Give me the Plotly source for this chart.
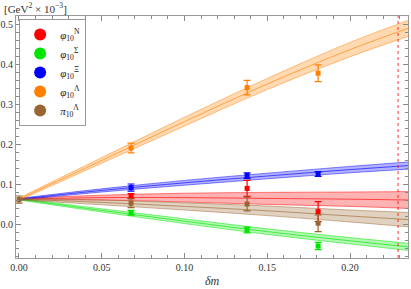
import plotly.graph_objects as go

# ---- data ----
pt_dm = [0.0677, 0.1378, 0.1807]
N_val = [0.070, 0.089, 0.031]
N_err = [0.006, 0.020, 0.025]
S_val = [0.028, -0.015, -0.055]
S_err = [0.006, 0.007, 0.009]
X_val = [0.091, 0.121, 0.125]
X_err = [0.009, 0.007, 0.006]
L_val = [0.190, 0.341, 0.377]
L_err = [0.012, 0.018, 0.021]
pi_dm = [0.0, 0.0677, 0.1378, 0.1807]
P_val = [0.061, 0.052, 0.050, 0.002]
P_err = [0.009, 0.011, 0.017, 0.021]

fit_dm = [0.0, 0.05, 0.10, 0.15, 0.20, 0.235]
N_fit = [0.062, 0.066, 0.066, 0.064, 0.062, 0.060]
N_hw = [0.002, 0.006, 0.011, 0.015, 0.018, 0.021]
S_fit = [0.062, 0.034, 0.007, -0.019, -0.042, -0.057]
S_hw = [0.002, 0.004, 0.006, 0.007, 0.008, 0.009]
X_fit = [0.062, 0.084, 0.103, 0.120, 0.136, 0.146]
X_hw = [0.002, 0.004, 0.006, 0.007, 0.008, 0.009]
L_fit = [0.062, 0.159, 0.256, 0.350, 0.436, 0.489]
L_hw = [0.003, 0.007, 0.011, 0.014, 0.018, 0.020]
P_fit = [0.062, 0.054, 0.044, 0.033, 0.020, 0.011]
P_hw = [0.002, 0.006, 0.009, 0.012, 0.015, 0.018]

phys_dm = [0.229]

labels = ["<i>φ</i><sub>10</sub><sup>N</sup>", "<i>φ</i><sub>10</sub><sup>Σ</sup>",
          "<i>φ</i><sub>10</sub><sup>Ξ</sup>", "<i>φ</i><sub>10</sub><sup>Λ</sup>",
          "<i>π</i><sub>10</sub><sup>Λ</sup>"]
x_ticks = [0.0, 0.05, 0.10, 0.15, 0.20]
x_tick_text = ["0.00", "0.05", "0.10", "0.15", "0.20"]
y_ticks = [0.0, 0.1, 0.2, 0.3, 0.4, 0.5]
y_tick_text = ["0.0", "0.1", "0.2", "0.3", "0.4", "0.5"]

colors = [(255, 0, 0), (0, 230, 0), (0, 0, 255), (255, 128, 0), (153, 102, 51)]

series = [
    (pt_dm, N_val, N_err, N_fit, N_hw),
    (pt_dm, S_val, S_err, S_fit, S_hw),
    (pt_dm, X_val, X_err, X_fit, X_hw),
    (pt_dm, L_val, L_err, L_fit, L_hw),
    (pi_dm, P_val, P_err, P_fit, P_hw),
]

FONT = "Liberation Serif, Times New Roman, serif"

def rgba(c, a):
    return f"rgba({c[0]},{c[1]},{c[2]},{a})"

fig = go.Figure()

# bands
for (px, pv, pe, fc, hw), c in zip(series, colors):
    lo = [a - b for a, b in zip(fc, hw)]
    hi = [a + b for a, b in zip(fc, hw)]
    fig.add_trace(go.Scatter(x=fit_dm, y=lo, mode="lines", line=dict(color=rgba(c, 0.6), width=0.8, shape="spline"),
                             showlegend=False, hoverinfo="skip"))
    fig.add_trace(go.Scatter(x=fit_dm, y=hi, mode="lines", line=dict(color=rgba(c, 0.6), width=0.8, shape="spline"),
                             fill="tonexty", fillcolor=rgba(c, 0.3), showlegend=False, hoverinfo="skip"))
    fig.add_trace(go.Scatter(x=fit_dm, y=fc, mode="lines", line=dict(color=rgba(c, 0.7), width=0.9, shape="spline"),
                             showlegend=False, hoverinfo="skip"))

# data points
for (px, pv, pe, fc, hw), c in zip(series, colors):
    fig.add_trace(go.Scatter(x=px, y=pv, mode="markers",
                             marker=dict(symbol="square", size=5, color=rgba(c, 1)),
                             error_y=dict(type="data", array=pe, visible=True, color=rgba(c, 1), thickness=1.2, width=3.5),
                             showlegend=False))

# legend entries
for lab, c in zip(labels, colors):
    fig.add_trace(go.Scatter(x=[None], y=[None], mode="markers", name=lab,
                             marker=dict(symbol="circle", size=13, color=rgba(c, 1))))

for xv in phys_dm:
    fig.add_vline(x=xv, line=dict(color="rgba(255,0,0,0.8)", width=1, dash="dot"))

axis_common = dict(showgrid=False, zeroline=False, showline=True, linecolor="#999999", linewidth=1,
                   mirror="allticks", ticks="inside", ticklen=5, tickcolor="#888888",
                   tickfont=dict(family=FONT, size=10, color="#333333"), automargin=False)

fig.update_layout(
    width=411, height=289,
    margin=dict(l=16, r=3, t=16, b=31),
    paper_bgcolor="white", plot_bgcolor="white",
    font=dict(family=FONT, size=11, color="#222222"),
    xaxis=dict(range=[-0.0018, 0.235], tickvals=x_ticks, ticktext=x_tick_text,
               minor=dict(dtick=0.01, ticks="inside", ticklen=3, tickcolor="#888888"), **axis_common),
    yaxis=dict(range=[-0.085, 0.52], tickvals=y_ticks, ticktext=y_tick_text,
               minor=dict(dtick=0.02, ticks="inside", ticklen=3, tickcolor="#888888"), **axis_common),
    legend=dict(x=0.008, y=0.988, xanchor="left", yanchor="top", bordercolor="#999999", borderwidth=1,
                bgcolor="white", font=dict(family=FONT, size=11), itemsizing="constant",
                tracegroupgap=0, itemwidth=30, traceorder="normal"),
    annotations=[
        dict(text="[GeV<sup>2</sup> × 10<sup>−3</sup>]", xref="paper", yref="paper", x=-0.036, y=1.035,
             xanchor="left", yanchor="middle", showarrow=False, font=dict(family=FONT, size=11, color="#333333")),
        dict(text="<i>δm</i>", xref="paper", yref="paper", x=0.5, y=-0.095,
             xanchor="center", yanchor="middle", showarrow=False, font=dict(family=FONT, size=12, color="#333333")),
    ],
)

fig.write_html("out.html", config={"displayModeBar": False},
               post_script="document.body.style.margin='0';document.body.style.overflow='hidden';")
